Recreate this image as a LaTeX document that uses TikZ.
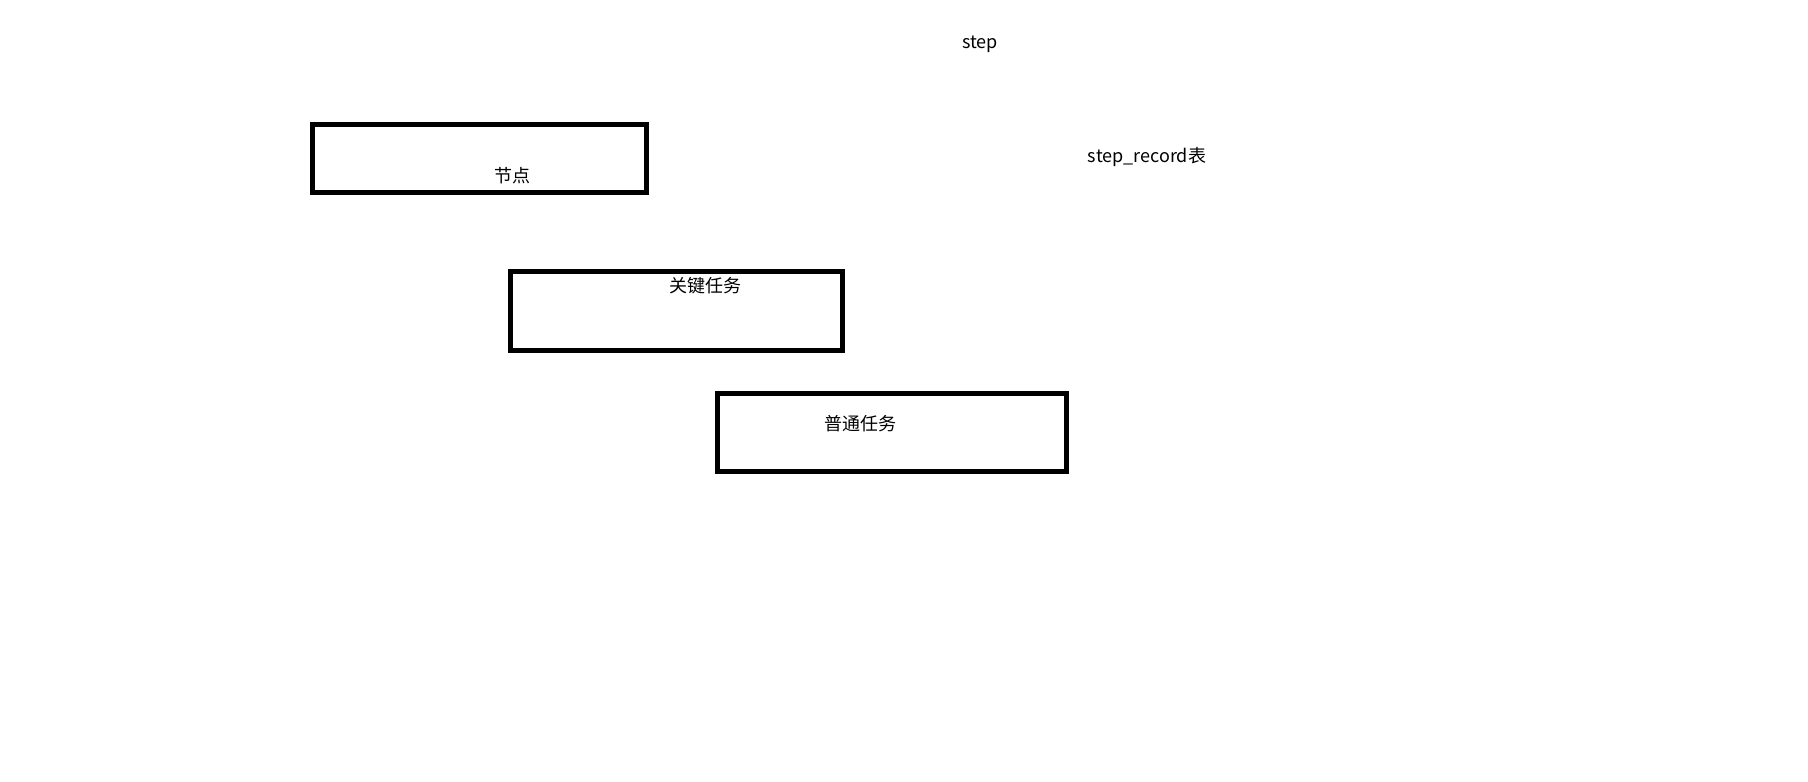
\documentclass[tikz,border=0pt]{standalone}
\usepackage{fontspec}
\setmainfont{Noto Sans CJK SC}
\begin{document}
\begin{tikzpicture}[x=1pt,y=-1pt,
  boxstyle/.style={draw=black,line width=5pt,inner sep=0pt,outer sep=0pt},
  lbl/.style={inner sep=0pt,outer sep=0pt,font=\fontsize{18pt}{21pt}\selectfont,anchor=base}]
\useasboundingbox (0,0) rectangle (1808,782);
\draw[boxstyle] (312.5,124.5) rectangle (646.5,192.5) coordinate (b1);
\draw[boxstyle] (510.5,271.5) rectangle (842.5,350.5) coordinate (b2);
\draw[boxstyle] (717.5,393.5) rectangle (1066.5,471.5) coordinate (b3);
\node[lbl] (step) at (980,48) {step};
\node[lbl] (rec) at (1147,162.5) {step\_record表};
\node[lbl] (jd) at (512,182.5) {节点};
\node[lbl] (gj) at (705,292) {关键任务};
\node[lbl] (pt) at (860,430) {普通任务};
\end{tikzpicture}
\end{document}
